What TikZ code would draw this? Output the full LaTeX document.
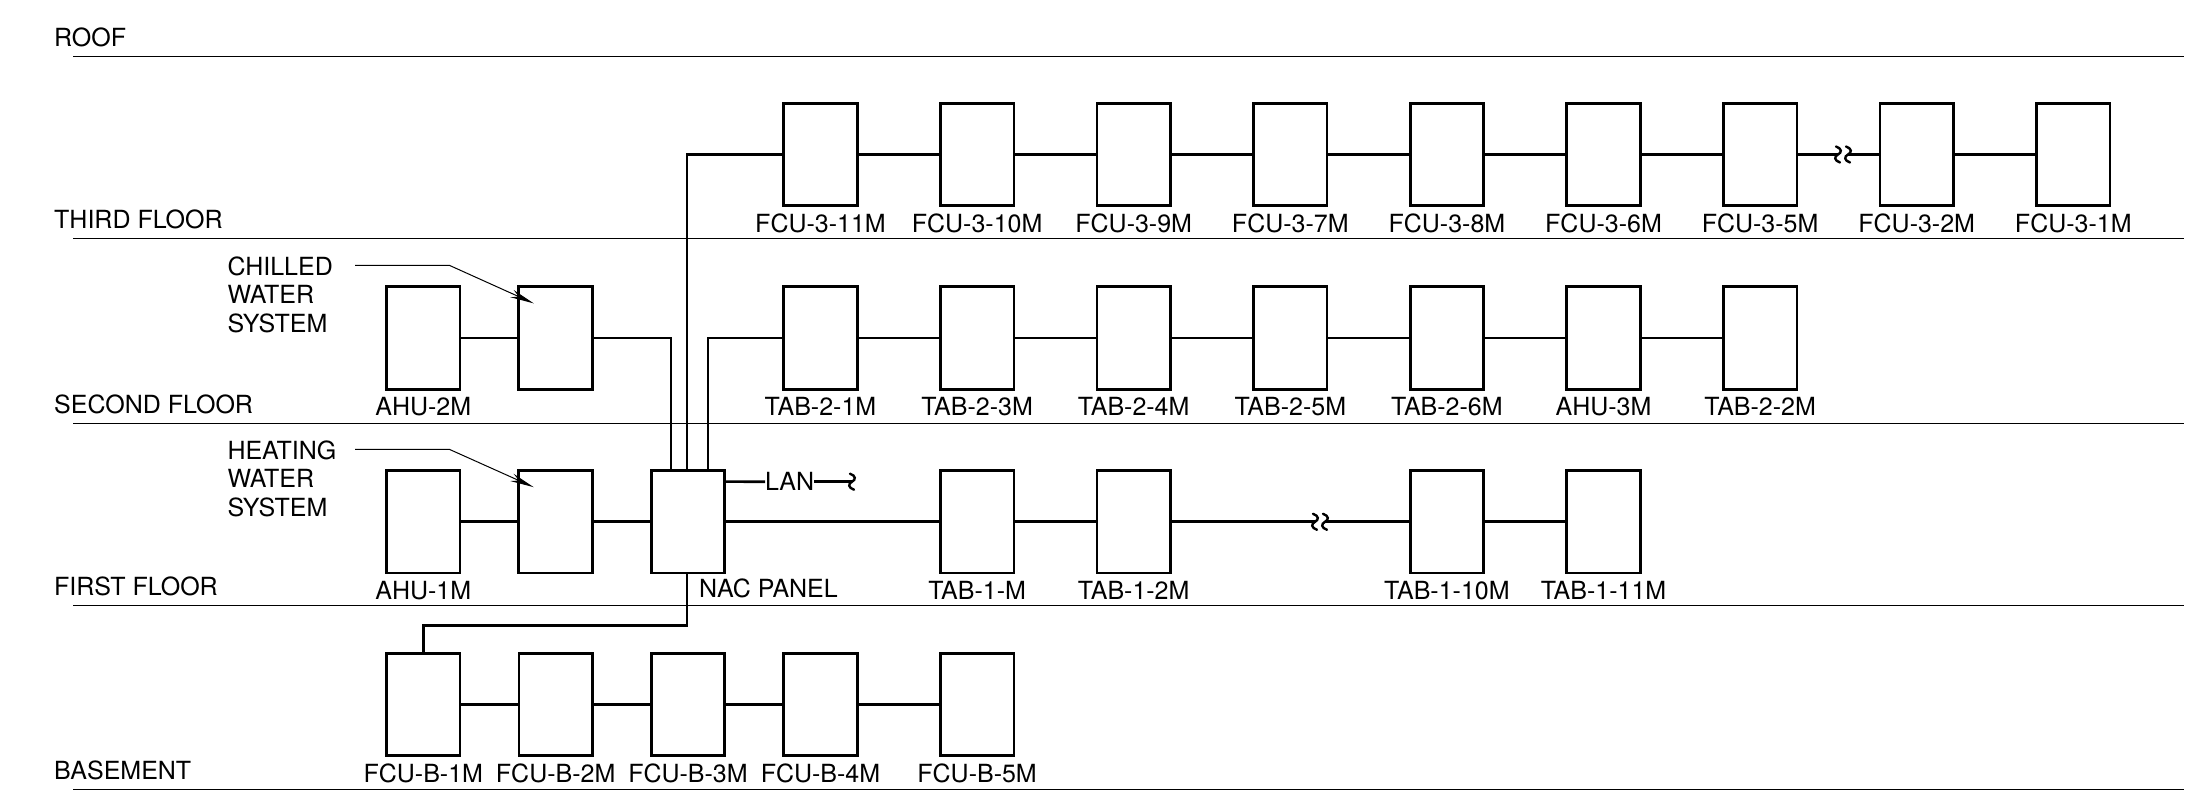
\documentclass[tikz,border=0pt]{standalone}
\usepackage{fontspec}
\setmainfont{TeX Gyre Heros}
\usetikzlibrary{calc,arrows.meta}

\tikzset{
  txt/.style={font=\fontsize{25}{28.7}\selectfont, inner sep=0pt},
  unit/.style={draw, line width=2.7pt, minimum width=73.5pt, minimum height=102.5pt, inner sep=0pt},
  wire/.style={line width=2.7pt},
  floorline/.style={line width=1.3pt},
  tag/.style={txt, anchor=base},
  floortag/.style={txt, anchor=base west},
  leader/.style={line width=1pt, -{Stealth[length=24pt,width=8pt]}},
  squiggle/.style={line width=2.4pt, line cap=round},
  brkmark/.pic={
    \draw[squiggle] (-7,-8) .. controls (-1,-6) and (-1,-2) .. (-5,0)
                          .. controls (-9,2) and (-9,6) .. (-3,8);
    \draw[squiggle] (3,-8) .. controls (9,-6) and (9,-2) .. (5,0)
                          .. controls (1,2) and (1,6) .. (7,8);
  },
  endmark/.pic={
    \draw[squiggle] (-2,-8) .. controls (4,-6) and (4,-2) .. (0,0)
                          .. controls (-4,2) and (-4,6) .. (2,8);
  }
}

\begin{document}
\begin{tikzpicture}[x=1pt, y=-1pt]
\useasboundingbox (0,0) rectangle (2188,803);

% floor levels
\foreach \yy/\name in {56.7/ROOF, 238.5/THIRD FLOOR, 423.3/SECOND FLOOR, 605.7/FIRST FLOOR, 789.5/BASEMENT}{
  \draw[floorline] (73,\yy) -- (2184,\yy);
  \node[floortag] at (54,\yy-10) {\name};
}

% third floor fan coil units
\foreach \lbl [count=\i from 0] in {FCU-3-11M,FCU-3-10M,FCU-3-9M,FCU-3-7M,FCU-3-8M,FCU-3-6M,FCU-3-5M,FCU-3-2M,FCU-3-1M}{
  \node[unit] (f3-\i) at (820.5+156.6*\i,154.5) {};
  \node[tag] at ($(f3-\i.south)+(0,25)$) {\lbl};
}
\foreach \i [evaluate=\i as \j using int(\i+1)] in {0,...,5,7}
  \draw[wire] (f3-\i.east) -- (f3-\j.west);
\coordinate (brk3) at (1843,154.5);
\draw[wire] (f3-6.east) -- ($(brk3)+(-5,0)$);
\draw[wire] ($(brk3)+(5,0)$) -- (f3-7.west);
\pic at (brk3) {brkmark};

% second floor
\node[unit] (ahu2) at (423.3,338) {};
\node[tag] at ($(ahu2.south)+(0,25)$) {AHU-2M};
\node[unit] (chw) at (555.4,338) {};
\foreach \lbl [count=\i from 0] in {TAB-2-1M,TAB-2-3M,TAB-2-4M,TAB-2-5M,TAB-2-6M,AHU-3M,TAB-2-2M}{
  \node[unit] (t2-\i) at (820.5+156.6*\i,338) {};
  \node[tag] at ($(t2-\i.south)+(0,25)$) {\lbl};
}
\foreach \i [evaluate=\i as \j using int(\i+1)] in {0,...,5}
  \draw[wire] (t2-\i.east) -- (t2-\j.west);
\draw[wire] (ahu2.east) -- (chw.west);

\node[txt, anchor=north west, align=left] (chwtxt) at (227.3,256.3) {CHILLED\\WATER\\SYSTEM};
\coordinate (chwlead) at (355,265.3);
\draw[leader] (chwlead) -- ++(94.3,0) -- ($(chw.north west)+(16.5,18)$);

% first floor
\node[unit] (ahu1) at (423.3,521.8) {};
\node[tag] at ($(ahu1.south)+(0,25)$) {AHU-1M};
\node[unit] (hw) at (555.4,521.8) {};
\node[unit] (nac) at (688,521.8) {};
\node[txt, anchor=base west] at ($(nac.south)+(11,23)$) {NAC PANEL};
\foreach \lbl/\k/\nm in {TAB-1-M/1/t1a, TAB-1-2M/2/t1b, TAB-1-10M/4/t1c, TAB-1-11M/5/t1d}{
  \node[unit] (\nm) at (820.5+156.6*\k,521.8) {};
  \node[tag] at ($(\nm.south)+(0,25)$) {\lbl};
}
\draw[wire] (ahu1.east) -- (hw.west);
\draw[wire] (hw.east) -- (nac.west);
\draw[wire] (nac.east) -- (t1a.west);
\draw[wire] (t1a.east) -- (t1b.west);
\coordinate (brk1) at (1320,521.8);
\draw[wire] (t1b.east) -- ($(brk1)+(-5,0)$);
\draw[wire] ($(brk1)+(5,0)$) -- (t1c.west);
\pic at (brk1) {brkmark};
\draw[wire] (t1c.east) -- (t1d.west);

\node[txt, anchor=north west, align=left] (hwtxt) at (227.3,440.3) {HEATING\\WATER\\SYSTEM};
\coordinate (hwlead) at (355,449.3);
\draw[leader] (hwlead) -- ++(94.3,0) -- ($(hw.north west)+(16.5,18)$);

% network connection
\node[txt, anchor=west] (lan) at (765,481.7) {LAN};
\coordinate (lanend) at (852,481.7);
\draw[wire] ($(nac.north east)+(0,12.4)$) -- (lan.west);
\draw[wire] (lan.east) -- (lanend);
\pic at (lanend) {endmark};

% risers from the panel
\draw[wire] (chw.east) -| ($(nac.north)+(-17,0)$);
\draw[wire] ($(nac.north)+(-1,0)$) |- (f3-0.west);
\draw[wire] ($(nac.north)+(20,0)$) |- (t2-0.west);

% basement
\foreach \lbl [count=\i] in {FCU-B-1M,FCU-B-2M,FCU-B-3M,FCU-B-4M,FCU-B-5M}{
  \pgfmathsetmacro{\cx}{\i<4 ? 423.3+132.35*(\i-1) : 820.5+156.6*(\i-4)}
  \node[unit] (fb-\i) at (\cx,704.5) {};
  \node[tag] at ($(fb-\i.south)+(0,25)$) {\lbl};
}
\foreach \i [evaluate=\i as \j using int(\i+1)] in {1,...,4}
  \draw[wire] (fb-\i.east) -- (fb-\j.west);
\draw[wire] ($(nac.south)+(-1,0)$) -- ++(0,51.4) -| (fb-1.north);
\end{tikzpicture}
\end{document}
